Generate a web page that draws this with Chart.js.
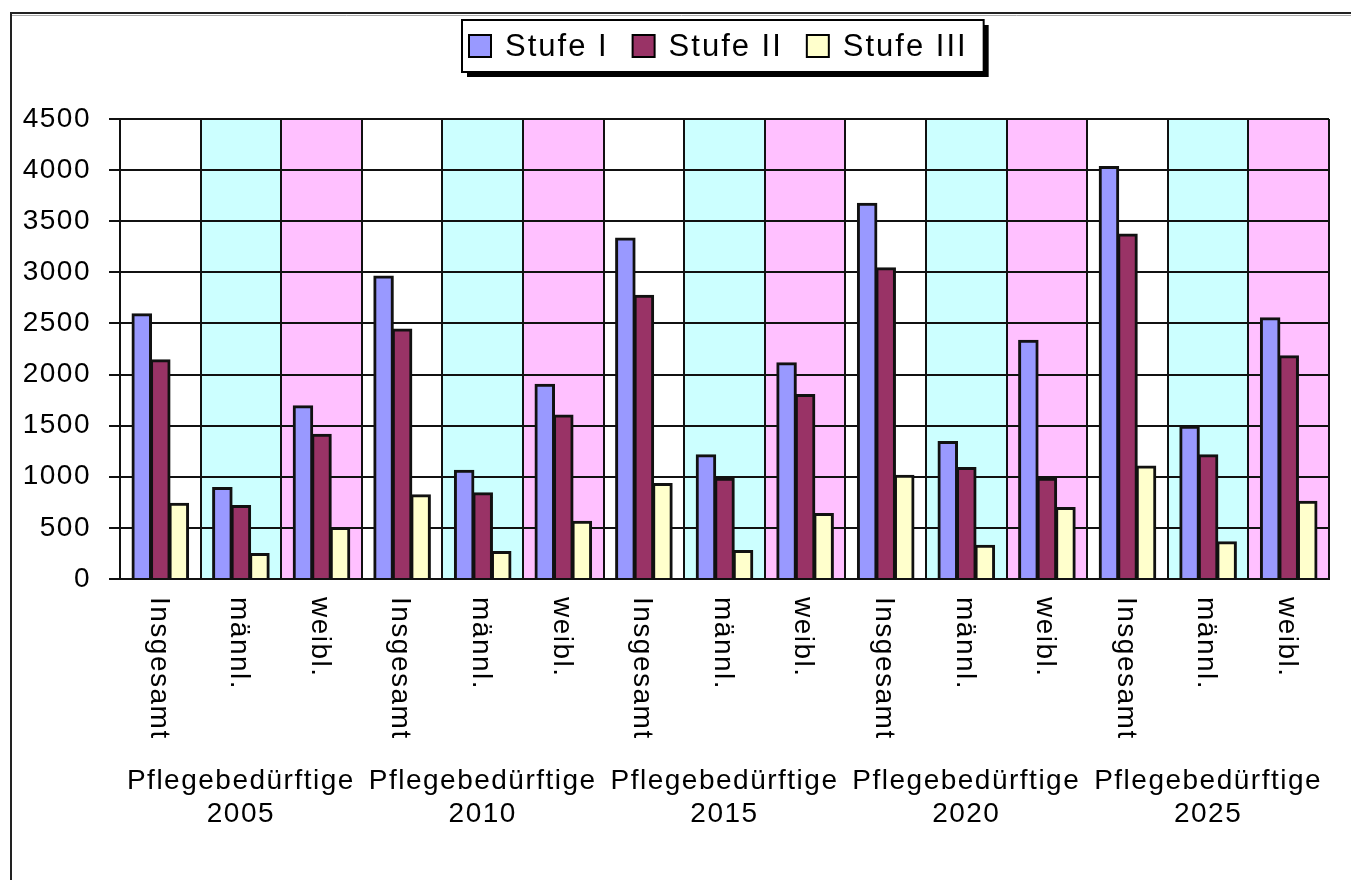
<!DOCTYPE html>
<html>
<head>
<meta charset="utf-8">
<script src="https://cdn.jsdelivr.net/npm/chart.js@4/dist/chart.umd.min.js"></script>
<style>
  html, body { margin: 0; padding: 0; background: #fff; }
  canvas { display: block; }
</style>
</head>
<body>
<canvas id="myChart" width="1351" height="880"></canvas>
<script>
// categories (one per bar group) and the year groups below them
const categories = ['Insgesamt', 'männl.', 'weibl.',
                    'Insgesamt', 'männl.', 'weibl.',
                    'Insgesamt', 'männl.', 'weibl.',
                    'Insgesamt', 'männl.', 'weibl.',
                    'Insgesamt', 'männl.', 'weibl.'];
const groupTitle = 'Pflegebedürftige';
const groupYears = ['2005', '2010', '2015', '2020', '2025'];

// series values
const stufe1 = [2590, 890, 1690, 2960, 1060, 1900, 3330, 1210, 2110, 3670, 1340, 2330, 4030, 1490, 2550];
const stufe2 = [2140, 715, 1410, 2440, 840, 1600, 2770, 980, 1800, 3040, 1085, 980, 3370, 1210, 2180];
const stufe3 = [735, 245, 500, 820, 265, 560, 930, 275, 635, 1010, 325, 695, 1100, 360, 755];

const yTicks = [0, 500, 1000, 1500, 2000, 2500, 3000, 3500, 4000, 4500];

// background colour per category inside a year group
const bandColors = ['#FFFFFF', '#CCFFFF', '#FFC0FF'];

const FONT = '"Liberation Sans", Arial, sans-serif';

const frameAndBands = {
    id: 'frameAndBands',
    beforeDraw(chart) {
        const ctx = chart.ctx;
        const area = chart.chartArea;
        const x = chart.scales.x;
        ctx.save();
        ctx.fillStyle = '#fff';
        ctx.fillRect(0, 0, chart.width, chart.height);
        // outer frame
        ctx.strokeStyle = '#222';
        ctx.lineWidth = 2;
        ctx.strokeRect(11, 13, chart.width + 20, chart.height + 20);
        ctx.strokeStyle = '#aaa';
        ctx.lineWidth = 1;
        ctx.beginPath();
        ctx.moveTo(12, 15.5); ctx.lineTo(chart.width, 15.5);
        ctx.stroke();
        // category bands
        const step = (area.right - area.left) / categories.length;
        for (let i = 0; i < categories.length; i++) {
            const c = x.getPixelForValue(i);
            ctx.fillStyle = bandColors[i % 3];
            ctx.fillRect(c - step / 2, area.top, step, area.bottom - area.top);
        }
        ctx.restore();
        ctx.letterSpacing = '1.5px';
    }
};

const labelsAndLegend = {
    id: 'labelsAndLegend',
    afterDraw(chart) {
        const ctx = chart.ctx;
        const area = chart.chartArea;
        const x = chart.scales.x;
        ctx.save();
        ctx.fillStyle = '#000';
        ctx.letterSpacing = '1.5px';
        ctx.font = '28px ' + FONT;

        // rotated category labels, reading top to bottom
        categories.forEach((lab, i) => {
            ctx.save();
            ctx.translate(x.getPixelForValue(i) - 2, area.bottom + 18);
            ctx.rotate(Math.PI / 2);
            ctx.textAlign = 'left';
            ctx.textBaseline = 'middle';
            ctx.fillText(lab, 0, 0);
            ctx.restore();
        });

        // year group labels
        ctx.textAlign = 'center';
        ctx.textBaseline = 'alphabetic';
        groupYears.forEach((yr, g) => {
            const cx = x.getPixelForValue(g * 3 + 1);
            ctx.fillText(groupTitle, cx, 789);
            ctx.fillText(yr, cx, 822);
        });

        // legend box
        ctx.font = '31px ' + FONT;
        ctx.letterSpacing = '2px';
        const sq = 22, gapSq = 14, gapItem = 24;
        const items = chart.data.datasets.map(ds => ({
            label: ds.label, color: ds.backgroundColor,
            w: ctx.measureText(ds.label).width
        }));
        let total = 0;
        items.forEach((it, k) => { total += sq + gapSq + it.w + (k < items.length - 1 ? gapItem : 0); });
        const padL = 7, padR = 16;
        const boxW = total + padL + padR, boxH = 52;
        const boxX = Math.round((area.left + area.right) / 2 - boxW / 2) - 2, boxY = 20;
        ctx.fillStyle = '#000';
        ctx.fillRect(boxX + 5, boxY + 5, boxW, boxH);
        ctx.fillStyle = '#fff';
        ctx.fillRect(boxX, boxY, boxW, boxH);
        ctx.strokeStyle = '#000';
        ctx.lineWidth = 2;
        ctx.strokeRect(boxX, boxY, boxW, boxH);
        let px = boxX + padL;
        const cy = boxY + boxH / 2;
        ctx.textAlign = 'left';
        ctx.textBaseline = 'middle';
        items.forEach(it => {
            ctx.fillStyle = it.color;
            ctx.fillRect(px, cy - sq / 2, sq, sq);
            ctx.strokeRect(px, cy - sq / 2, sq, sq);
            px += sq + gapSq;
            ctx.fillStyle = '#000';
            ctx.fillText(it.label, px, cy + 1);
            px += it.w + gapItem;
        });
        ctx.restore();
    }
};

new Chart(document.getElementById('myChart'), {
    type: 'bar',
    data: {
        labels: categories,
        datasets: [
            { label: 'Stufe I', data: stufe1, backgroundColor: '#9999FF' },
            { label: 'Stufe II', data: stufe2, backgroundColor: '#993366' },
            { label: 'Stufe III', data: stufe3, backgroundColor: '#FFFFCC' }
        ]
    },
    options: {
        responsive: false,
        animation: false,
        devicePixelRatio: 1,
        layout: { padding: { top: 119, right: 22, bottom: 0, left: 0 } },
        datasets: {
            bar: {
                borderColor: '#111',
                borderWidth: 3,
                inflateAmount: 1,
                categoryPercentage: 0.69,
                barPercentage: 1
            }
        },
        plugins: {
            legend: { display: false },
            tooltip: { enabled: false }
        },
        scales: {
            x: {
                afterFit: s => { s.height = 301; },
                ticks: { display: false },
                grid: { color: '#111', lineWidth: 2, drawTicks: false, offset: true },
                border: { display: true, color: '#111', width: 2 }
            },
            y: {
                min: 0,
                max: 4500,
                afterFit: s => { s.width = 120; },
                afterBuildTicks: s => { s.ticks = yTicks.map(v => ({ value: v })); },
                ticks: {
                    color: '#000',
                    padding: 18,
                    font: { family: FONT, size: 28 },
                    callback: v => String(v)
                },
                grid: { color: '#111', lineWidth: 2, tickLength: 11 },
                border: { display: true, color: '#111', width: 2 }
            }
        }
    },
    plugins: [frameAndBands, labelsAndLegend]
});
</script>
</body>
</html>
